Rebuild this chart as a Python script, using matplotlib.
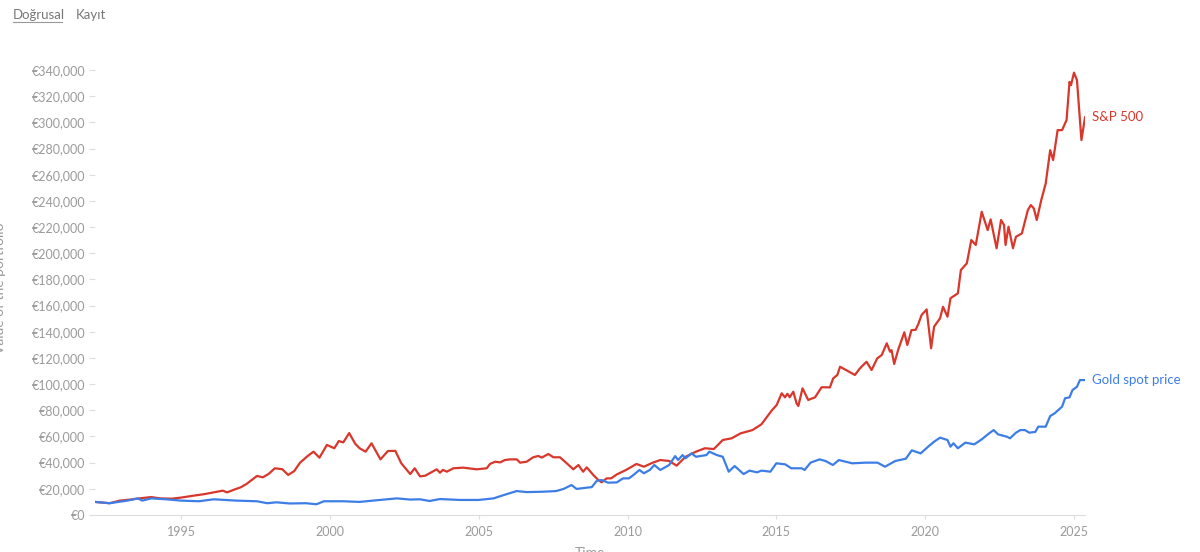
import matplotlib
matplotlib.use("Agg")
import matplotlib.pyplot as plt
from matplotlib.lines import Line2D
from matplotlib.ticker import FuncFormatter
import numpy as np

# S&P 500 portfolio value (thousands of euros)
sp_years = [1992.11, 1992.6, 1992.95, 1993.3, 1993.6, 1994.0, 1994.3, 1994.7, 1995.0, 1995.4,
            1995.8, 1996.1, 1996.4, 1996.55, 1996.8, 1997.0, 1997.2, 1997.55, 1997.75, 1997.95,
            1998.15, 1998.4, 1998.6, 1998.8, 1999.0, 1999.25, 1999.45, 1999.65, 1999.9, 2000.15,
            2000.3, 2000.45, 2000.65, 2000.85, 2001.0, 2001.2, 2001.4, 2001.7, 2001.95, 2002.2,
            2002.4, 2002.7, 2002.85, 2003.03, 2003.2, 2003.59, 2003.7, 2003.8, 2003.93, 2004.15,
            2004.48, 2004.93, 2005.27, 2005.38, 2005.55, 2005.72, 2005.88, 2006.05, 2006.28, 2006.39,
            2006.61, 2006.83, 2007.0, 2007.12, 2007.34, 2007.51, 2007.73, 2007.96, 2008.18, 2008.35,
            2008.51, 2008.63, 2008.85, 2009.02, 2009.13, 2009.3, 2009.45, 2009.64, 2009.95, 2010.3,
            2010.55, 2010.85, 2011.1, 2011.4, 2011.65, 2011.95, 2012.3, 2012.6, 2012.9, 2013.2,
            2013.5, 2013.8, 2014.2, 2014.5, 2014.85, 2015.01, 2015.18, 2015.29, 2015.37, 2015.45,
            2015.57, 2015.68, 2015.74, 2015.88, 2016.07, 2016.3, 2016.52, 2016.8, 2016.91, 2017.05,
            2017.14, 2017.64, 2017.81, 2018.03, 2018.2, 2018.39, 2018.54, 2018.71, 2018.82, 2018.87,
            2018.96, 2019.09, 2019.3, 2019.4, 2019.54, 2019.68, 2019.77, 2019.88, 2020.05, 2020.2,
            2020.3, 2020.5, 2020.6, 2020.75, 2020.85, 2021.1, 2021.2, 2021.4, 2021.55, 2021.7,
            2021.9, 2022.1, 2022.2, 2022.4, 2022.55, 2022.65, 2022.7, 2022.8, 2022.95, 2023.05,
            2023.25, 2023.45, 2023.55, 2023.65, 2023.75, 2023.9, 2024.05, 2024.2, 2024.3, 2024.45,
            2024.6, 2024.75, 2024.85, 2024.9, 2025.0, 2025.1, 2025.25, 2025.37]
sp_values = [10.0, 9.0, 11.0, 11.8, 12.7, 13.7, 12.7, 12.5, 13.3, 14.7,
             16.0, 17.3, 18.6, 17.3, 19.5, 21.1, 23.7, 29.8, 28.8, 31.5,
             35.7, 35.0, 30.6, 33.5, 40.0, 45.0, 48.4, 43.8, 53.5, 51.0,
             56.5, 55.5, 62.6, 54.5, 51.0, 48.4, 54.8, 42.5, 48.9, 49.0,
             39.5, 31.3, 35.7, 29.5, 30.0, 34.9, 32.3, 34.5, 33.1, 35.7,
             36.2, 34.9, 35.7, 39.0, 40.7, 40.2, 42.0, 42.5, 42.5, 40.0,
             40.7, 44.1, 45.1, 43.9, 46.6, 44.1, 44.1, 39.5, 34.9, 38.2,
             33.1, 36.4, 30.6, 26.7, 25.0, 28.0, 28.0, 31.0, 34.4, 39.0,
             36.9, 40.0, 42.0, 41.3, 37.7, 44.5, 48.4, 51.0, 50.4, 57.3,
             58.6, 62.4, 64.9, 69.3, 80.0, 84.0, 93.0, 89.9, 92.6, 90.0,
             94.2, 85.3, 83.3, 96.8, 87.9, 89.9, 97.6, 97.5, 104.4, 107.0,
             113.3, 107.0, 112.1, 117.1, 110.8, 119.7, 122.2, 131.2, 124.8, 126.0,
             115.4, 126.0, 139.6, 129.9, 141.3, 141.5, 145.9, 152.8, 157.1, 127.4,
             143.9, 150.3, 159.1, 151.5, 165.6, 169.4, 187.2, 192.3, 210.1, 206.3,
             231.7, 217.7, 225.9, 203.8, 225.4, 221.6, 206.3, 220.3, 203.8, 212.6,
             215.2, 233.0, 236.8, 234.3, 225.4, 240.6, 253.4, 278.8, 271.2, 294.1,
             294.1, 301.8, 331.0, 328.5, 338.0, 332.3, 286.5, 303.8]

# Gold spot price portfolio value (thousands of euros)
gold_years = [1992.11, 1992.6, 1993.2, 1993.55, 1993.7, 1994.0, 1994.5, 1995.0, 1995.6, 1996.1,
              1996.85, 1997.55, 1997.9, 1998.2, 1998.65, 1999.2, 1999.55, 1999.8, 2000.45, 2001.0,
              2001.45, 2002.25, 2002.7, 2003.03, 2003.35, 2003.7, 2004.37, 2005.0, 2005.5, 2005.85,
              2006.28, 2006.61, 2007.17, 2007.6, 2007.85, 2008.12, 2008.29, 2008.63, 2008.8, 2008.97,
              2009.13, 2009.35, 2009.64, 2009.85, 2010.05, 2010.2, 2010.4, 2010.55, 2010.75, 2010.9,
              2011.1, 2011.4, 2011.6, 2011.7, 2011.85, 2011.95, 2012.15, 2012.3, 2012.65, 2012.75,
              2013.0, 2013.2, 2013.4, 2013.6, 2013.9, 2014.1, 2014.35, 2014.5, 2014.8, 2015.0,
              2015.3, 2015.5, 2015.85, 2015.95, 2016.15, 2016.45, 2016.65, 2016.9, 2017.1, 2017.55,
              2018.0, 2018.4, 2018.65, 2019.0, 2019.35, 2019.55, 2019.85, 2020.1, 2020.3, 2020.5,
              2020.75, 2020.85, 2020.95, 2021.1, 2021.35, 2021.65, 2021.9, 2022.15, 2022.3, 2022.45,
              2022.75, 2022.85, 2023.05, 2023.2, 2023.35, 2023.5, 2023.7, 2023.8, 2024.05, 2024.2,
              2024.35, 2024.6, 2024.7, 2024.85, 2024.95, 2025.1, 2025.2, 2025.37]
gold_values = [10.0, 9.0, 11.0, 12.7, 11.0, 12.7, 12.0, 11.0, 10.5, 12.0,
               11.0, 10.5, 9.0, 9.7, 8.8, 9.0, 8.2, 10.5, 10.5, 10.0,
               11.0, 12.7, 11.8, 12.0, 10.7, 12.2, 11.5, 11.5, 12.7, 15.3,
               18.3, 17.5, 17.8, 18.3, 19.9, 22.9, 19.9, 20.9, 21.3, 26.2,
               26.7, 24.7, 24.9, 28.0, 28.0, 30.6, 34.4, 31.9, 34.4, 38.2,
               34.4, 38.2, 45.0, 42.0, 45.8, 43.3, 47.1, 44.5, 45.8, 48.4,
               45.8, 44.5, 33.1, 37.4, 31.3, 33.9, 32.6, 33.9, 33.1, 39.5,
               38.7, 35.7, 35.7, 34.4, 40.0, 42.5, 41.3, 38.2, 42.0, 39.5,
               40.0, 40.0, 36.9, 41.3, 43.0, 49.4, 47.1, 52.2, 56.0, 59.1,
               57.3, 52.2, 54.8, 51.0, 55.3, 54.0, 57.8, 62.4, 64.9, 61.6,
               59.8, 58.6, 62.9, 64.9, 64.9, 62.9, 63.5, 67.5, 67.5, 75.6,
               77.7, 82.8, 89.2, 89.9, 95.5, 98.0, 103.1, 103.1]

x_ticks = [1995, 2000, 2005, 2010, 2015, 2020, 2025]
y_ticks = list(range(0, 340001, 20000))

red = "#d9372b"
blue = "#3d7ee6"
grey = "#9a9a9a"

plt.rcParams["font.family"] = ["Lato", "DejaVu Sans"]

fig = plt.figure(figsize=(12, 5.52), dpi=100)
ax = fig.add_axes([95 / 1200, 37 / 552, 990 / 1200, 451.5 / 552])

ax.plot(sp_years, np.array(sp_values) * 1000, color=red, lw=1.6)
ax.plot(gold_years, np.array(gold_values) * 1000, color=blue, lw=1.6)

ax.text(2025.62, sp_values[-1] * 1000, "S&P 500", color=red, fontsize=9.5,
        va="center", ha="left")
ax.text(2025.62, gold_values[-1] * 1000, "Gold spot price", color=blue, fontsize=9.5,
        va="center", ha="left")

ax.set_xlim(1992.11, 2025.37)
ax.set_ylim(0, 345000)
ax.set_xticks(x_ticks)
ax.set_yticks(y_ticks)
ax.yaxis.set_major_formatter(FuncFormatter(lambda v, p: "€{:,.0f}".format(v)))

for side in ["top", "right", "left"]:
    ax.spines[side].set_visible(False)
ax.spines["bottom"].set_color("#dddddd")
ax.tick_params(axis="y", colors="#dddddd", labelcolor=grey, length=4, pad=3, labelsize=9)
ax.tick_params(axis="x", colors="#dddddd", labelcolor=grey, length=3, pad=5, labelsize=9)

# axis titles sit partly outside the frame, as in the source chart
fig.text(0.0, (552 - 288) / 552, "Value of the portfolio", rotation=90, color=grey,
         fontsize=10, ha="center", va="center")
fig.text(590 / 1200, 5 / 552, "Time", color=grey, fontsize=10, ha="center", va="top")

# tabs at the top
fig.text(13 / 1200, (552 - 15) / 552, "Doğrusal", color="#777777", fontsize=9.5,
         ha="left", va="center")
fig.text(76 / 1200, (552 - 15) / 552, "Kayıt", color="#777777", fontsize=9.5,
         ha="left", va="center")
fig.add_artist(Line2D([13 / 1200, 62 / 1200], [(552 - 22) / 552] * 2,
                      transform=fig.transFigure, color="#999999", lw=0.8))

fig.savefig("out.png", dpi=100, facecolor="white")
